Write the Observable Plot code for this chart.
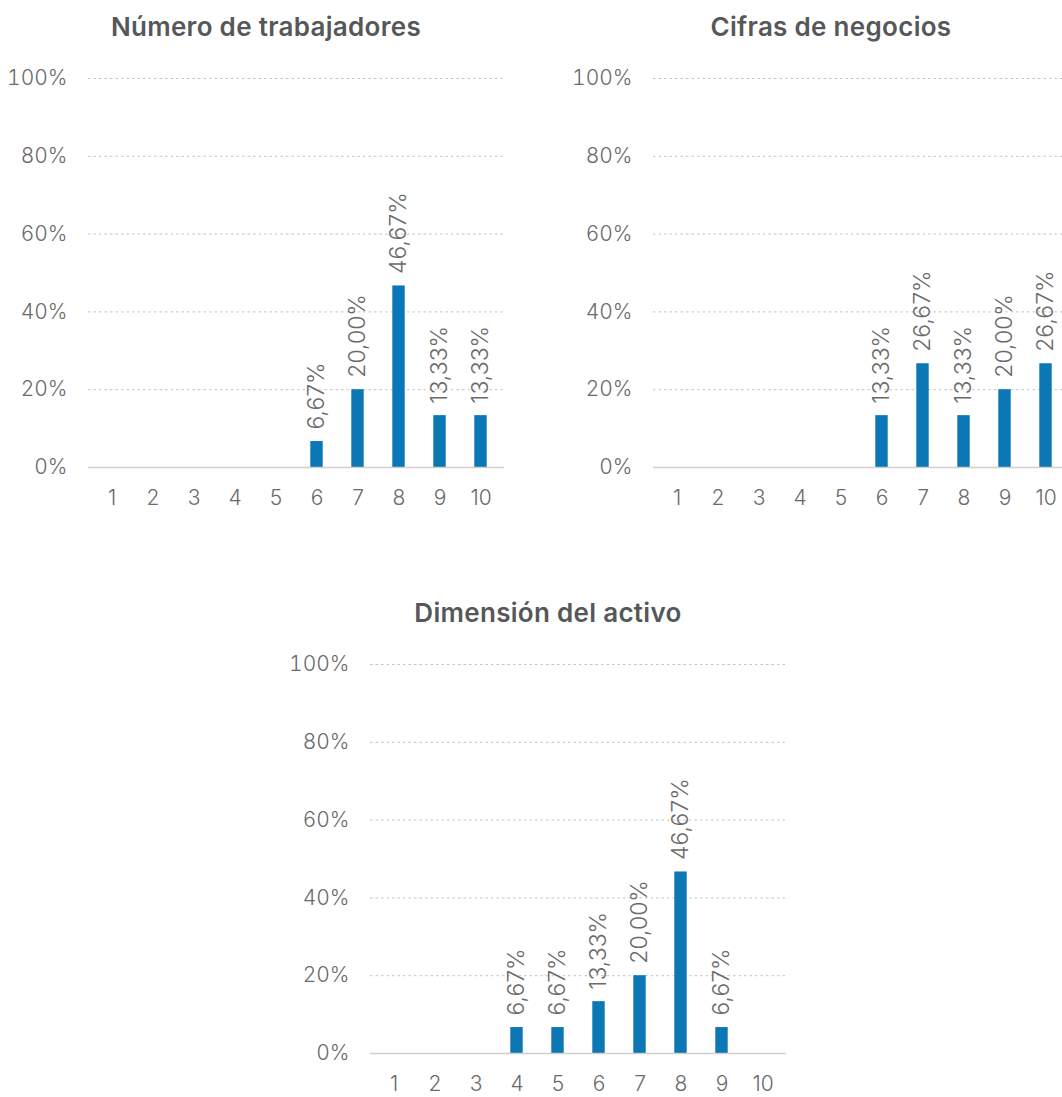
<!DOCTYPE html>
<html>
<head>
<meta charset="utf-8">
<script src="https://cdn.jsdelivr.net/npm/d3@7"></script>
<script src="https://cdn.jsdelivr.net/npm/@observablehq/plot@0.6"></script>
<style>
  html, body { margin: 0; padding: 0; background: #fff; }
  #root { position: relative; width: 1062px; height: 1097px; overflow: hidden; }
  .panel { position: absolute; width: 532px; }
  .title { height: 50px; line-height: 54px; text-align: center; font-family: Inter, sans-serif; font-weight: 600; font-size: 26px; letter-spacing: 0.3px; color: #555759; }
</style>
</head>
<body>
<div id="root"></div>
<script>
const categories = [1, 2, 3, 4, 5, 6, 7, 8, 9, 10];
const titles = ["Número de trabajadores", "Cifras de negocios", "Dimensión del activo"];
const trabajadores = [0, 0, 0, 0, 0, 6.67, 20.00, 46.67, 13.33, 13.33];
const negocios = [0, 0, 0, 0, 0, 13.33, 26.67, 13.33, 20.00, 26.67];
const activo = [0, 0, 0, 6.67, 6.67, 13.33, 20.00, 46.67, 6.67, 0];
const yTicks = [0, 20, 40, 60, 80, 100];

const panels = [
  {title: titles[0], values: trabajadores, left: 0, top: 0},
  {title: titles[1], values: negocios, left: 565, top: 0},
  {title: titles[2], values: activo, left: 282, top: 586}
];

const fmt = v => v.toFixed(2).replace(".", ",") + "%";
const root = document.getElementById("root");

for (const p of panels) {
  const data = categories.map((c, i) => ({cat: c, value: p.values[i]}));
  const div = document.createElement("div");
  div.className = "panel";
  div.style.left = p.left + "px";
  div.style.top = p.top + "px";
  const t = document.createElement("div");
  t.className = "title";
  t.textContent = p.title;
  div.appendChild(t);
  const chart = Plot.plot({
    width: 532,
    height: 467,
    marginLeft: 88,
    marginRight: 28,
    marginTop: 28,
    marginBottom: 50,
    style: {fontFamily: "Inter, sans-serif", fontSize: "21px", fontWeight: 300, color: "#666", background: "#fff"},
    x: {domain: categories, padding: 0, label: null},
    y: {domain: [0, 100], label: null},
    marks: [
      Plot.ruleY(yTicks.filter(d => d > 0), {stroke: "#c4c4c4", strokeDasharray: "2.5,3", strokeWidth: 1}),
      Plot.barY(data, {x: "cat", y: "value", fill: "#0b77b5", insetLeft: 14.3, insetRight: 14.3}),
      Plot.ruleY([0], {stroke: "#cfcfcf", strokeWidth: 1.5}),
      Plot.axisY({ticks: yTicks, tickFormat: d => d + "%", tickSize: 0, tickPadding: 21, fill: "#6a6a6a", fontSize: 21}),
      Plot.axisX({tickSize: 0, tickPadding: 23, fill: "#6a6a6a", fontSize: 21}),
      Plot.text(data.filter(d => d.value > 0), {x: "cat", y: "value", text: d => fmt(d.value), rotate: -90, textAnchor: "start", dy: -12, fill: "#6a6a6a", fontSize: 23})
    ]
  });
  div.appendChild(chart);
  root.appendChild(div);
}
</script>
</body>
</html>
